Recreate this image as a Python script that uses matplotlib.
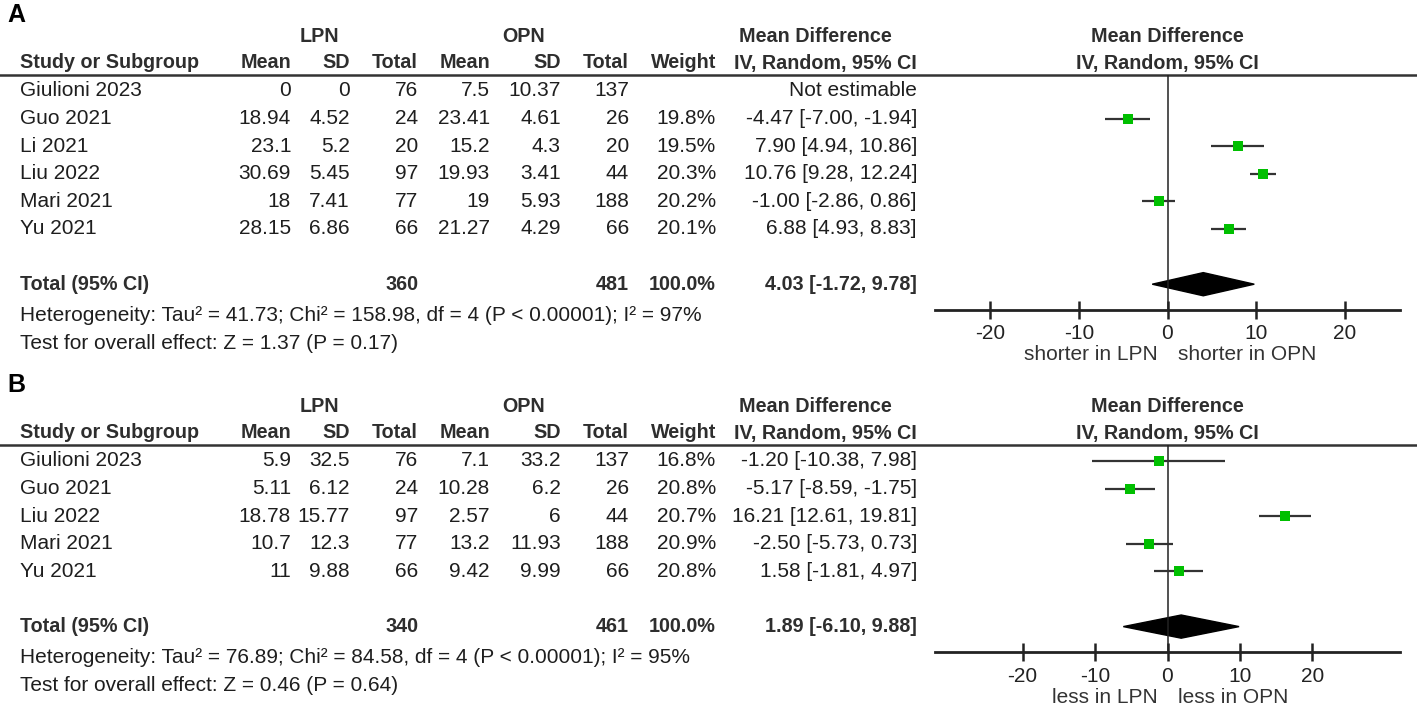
import numpy as np
import matplotlib
matplotlib.use('Agg')
import matplotlib.pyplot as plt
from matplotlib.patches import Polygon

plt.rcParams['font.family'] = ['Liberation Sans', 'DejaVu Sans']
plt.rcParams['axes.unicode_minus'] = False

# ---- panel A data ----
studies_a = ['Giulioni 2023', 'Guo 2021', 'Li 2021', 'Liu 2022', 'Mari 2021', 'Yu 2021']
lpn_mean_a = [0, 18.94, 23.1, 30.69, 18, 28.15]
lpn_sd_a = [0, 4.52, 5.2, 5.45, 7.41, 6.86]
lpn_n_a = [76, 24, 20, 97, 77, 66]
opn_mean_a = [7.5, 23.41, 15.2, 19.93, 19, 21.27]
opn_sd_a = [10.37, 4.61, 4.3, 3.41, 5.93, 4.29]
opn_n_a = [137, 26, 20, 44, 188, 66]
weight_a = [None, 19.8, 19.5, 20.3, 20.2, 20.1]
md_a = [None, -4.47, 7.90, 10.76, -1.00, 6.88]
lo_a = [None, -7.00, 4.94, 9.28, -2.86, 4.93]
hi_a = [None, -1.94, 10.86, 12.24, 0.86, 8.83]
total_a = (360, 481, 4.03, -1.72, 9.78)
het_a = 'Heterogeneity: Tau² = 41.73; Chi² = 158.98, df = 4 (P < 0.00001); I² = 97%'
test_a = 'Test for overall effect: Z = 1.37 (P = 0.17)'

# ---- panel B data ----
studies_b = ['Giulioni 2023', 'Guo 2021', 'Liu 2022', 'Mari 2021', 'Yu 2021']
lpn_mean_b = [5.9, 5.11, 18.78, 10.7, 11]
lpn_sd_b = [32.5, 6.12, 15.77, 12.3, 9.88]
lpn_n_b = [76, 24, 97, 77, 66]
opn_mean_b = [7.1, 10.28, 2.57, 13.2, 9.42]
opn_sd_b = [33.2, 6.2, 6, 11.93, 9.99]
opn_n_b = [137, 26, 44, 188, 66]
weight_b = [16.8, 20.8, 20.7, 20.9, 20.8]
md_b = [-1.20, -5.17, 16.21, -2.50, 1.58]
lo_b = [-10.38, -8.59, 12.61, -5.73, -1.81]
hi_b = [7.98, -1.75, 19.81, 0.73, 4.97]
total_b = (340, 461, 1.89, -6.10, 9.88)
het_b = 'Heterogeneity: Tau² = 76.89; Chi² = 84.58, df = 4 (P < 0.00001); I² = 95%'
test_b = 'Test for overall effect: Z = 0.46 (P = 0.64)'

ticks = [-20, -10, 0, 10, 20]

W, H = 1417, 707
fig = plt.figure(figsize=(W / 100, H / 100), dpi=100)
bg = fig.add_axes([0, 0, 1, 1])
bg.set_xlim(0, W)
bg.set_ylim(H, 0)
bg.axis('off')

FS = 15      # regular text
FB = 14.2    # bold headers
TXT = '#1e1e1e'
HDR = '#2e2e2e'
ROW0, DY = 91, 27.6
# right edges of the table columns
cols = [291, 350, 418, 490, 561, 629, 716, 917]


def fmt(v):
    return f'{v:g}'


def panel(off, letter, studies, m1, s1, n1, m2, s2, n2, w, md, lo, hi, tot,
          het, test, xlim, left_lab, right_lab):
    bg.text(7, 15 + off, letter, fontsize=18, fontweight='bold', va='center', color='black')
    bg.text(319, 37 + off, 'LPN', fontsize=FB, fontweight='bold', ha='center', va='center', color=HDR)
    bg.text(524, 37 + off, 'OPN', fontsize=FB, fontweight='bold', ha='center', va='center', color=HDR)
    bg.text(815, 37 + off, 'Mean Difference', fontsize=FB, fontweight='bold', ha='center', va='center', color=HDR)
    bg.text(1167, 37 + off, 'Mean Difference', fontsize=FB, fontweight='bold', ha='center', va='center', color=HDR)
    bg.text(20, 63 + off, 'Study or Subgroup', fontsize=FB, fontweight='bold', va='center', color=HDR)
    for x, lab in zip(cols, ['Mean', 'SD', 'Total', 'Mean', 'SD', 'Total', 'Weight', 'IV, Random, 95% CI']):
        bg.text(x, 63 + off, lab, fontsize=FB, fontweight='bold', ha='right', va='center', color=HDR)
    bg.text(1167, 63 + off, 'IV, Random, 95% CI', fontsize=FB, fontweight='bold', ha='center', va='center', color=HDR)
    bg.plot([0, W], [75 + off, 75 + off], color='#333333', lw=1.8)

    n = len(studies)
    for i in range(n):
        y = ROW0 + off + DY * i
        bg.text(20, y, studies[i], fontsize=FS, va='center', color=TXT)
        vals = [fmt(m1[i]), fmt(s1[i]), str(n1[i]), fmt(m2[i]), fmt(s2[i]), str(n2[i])]
        if w[i] is None:
            vals += ['', 'Not estimable']
        else:
            vals += [f'{w[i]:.1f}%', f'{md[i]:.2f} [{lo[i]:.2f}, {hi[i]:.2f}]']
        for x, v in zip(cols, vals):
            bg.text(x, y, v, fontsize=FS, ha='right', va='center', color=TXT)

    yt = ROW0 + off + DY * (n + 1)
    bg.text(20, yt, 'Total (95% CI)', fontsize=FB, fontweight='bold', va='center', color=HDR)
    tvals = [str(tot[0]), str(tot[1]), '100.0%', f'{tot[2]:.2f} [{tot[3]:.2f}, {tot[4]:.2f}]']
    for x, v in zip([cols[2], cols[5], cols[6], cols[7]], tvals):
        bg.text(x, yt, v, fontsize=FB, fontweight='bold', ha='right', va='center', color=HDR)
    bg.text(20, yt + 31, het, fontsize=FS, va='center', color=TXT)
    bg.text(20, yt + 59, test, fontsize=FS, va='center', color=TXT)

    # forest plot
    top = 75 + off
    ybot = ROW0 + off + DY * (n + 1.93)
    x0, x1 = 935, 1400
    ax = fig.add_axes([x0 / W, 1 - ybot / H, (x1 - x0) / W, (ybot - top) / H])
    ax.set_xlim(*xlim)
    ax.set_ylim(n + 1.93, (top - ROW0 - off) / DY)
    ax.patch.set_alpha(0)
    for s in ['top', 'left', 'right']:
        ax.spines[s].set_visible(False)
    ax.spines['bottom'].set_linewidth(2)
    ax.spines['bottom'].set_color('#222222')
    ax.set_yticks([])
    ax.set_xticks(ticks)
    ax.set_xticklabels([str(t) for t in ticks])
    ax.tick_params(axis='x', direction='inout', length=13, width=1.8, pad=4,
                   labelsize=FS, colors='#222222')
    ax.axvline(0, color='#222222', lw=1.1)

    rows = np.arange(n)
    ok = [i for i in range(n) if md[i] is not None]
    ax.hlines(rows[ok], [lo[i] for i in ok], [hi[i] for i in ok], color='#333333', lw=1.6)
    ax.plot([md[i] for i in ok], rows[ok], 's', color='#00bf00', markersize=7, markeredgewidth=0)

    h = 0.42
    diamond = Polygon([[tot[3], n + 1], [tot[2], n + 1 - h], [tot[4], n + 1], [tot[2], n + 1 + h]],
                      closed=True, facecolor='black', edgecolor='black')
    ax.add_patch(diamond)

    ax.annotate(left_lab, xy=(0, 0), xycoords=('data', 'axes fraction'), xytext=(-10, -45),
                textcoords='offset pixels', ha='right', va='center', fontsize=FS, color='#333333')
    ax.annotate(right_lab, xy=(0, 0), xycoords=('data', 'axes fraction'), xytext=(10, -45),
                textcoords='offset pixels', ha='left', va='center', fontsize=FS, color='#333333')


panel(0, 'A', studies_a, lpn_mean_a, lpn_sd_a, lpn_n_a, opn_mean_a, opn_sd_a, opn_n_a,
      weight_a, md_a, lo_a, hi_a, total_a, het_a, test_a, (-26.2, 26.2),
      'shorter in LPN', 'shorter in OPN')
panel(370, 'B', studies_b, lpn_mean_b, lpn_sd_b, lpn_n_b, opn_mean_b, opn_sd_b, opn_n_b,
      weight_b, md_b, lo_b, hi_b, total_b, het_b, test_b, (-32.1, 32.1),
      'less in LPN', 'less in OPN')

fig.savefig('out.png', dpi=100)
